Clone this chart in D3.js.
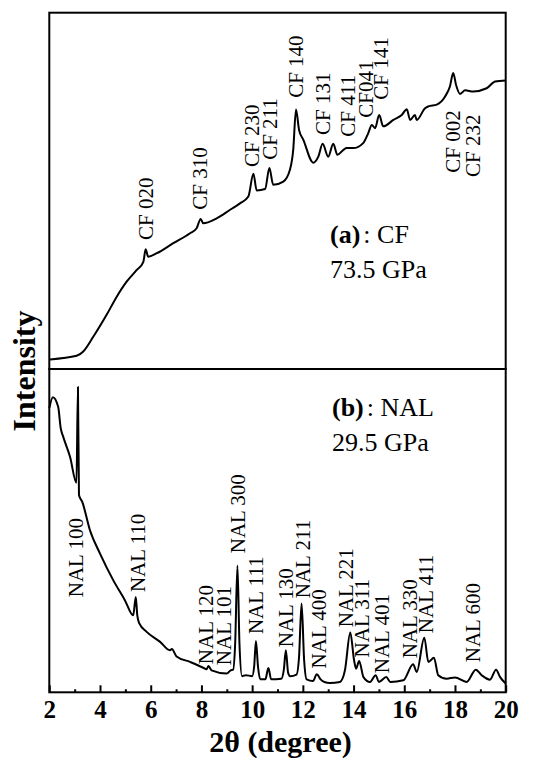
<!DOCTYPE html>
<html>
<head>
<meta charset="utf-8">
<script src="https://cdn.jsdelivr.net/npm/d3@7/dist/d3.min.js"></script>
<style>
  html, body { margin: 0; padding: 0; background: #fff; }
  svg { display: block; }
  text { font-family: "Liberation Serif", "Times New Roman", serif; fill: #000; }
</style>
</head>
<body>
<svg id="chart" width="539" height="760"></svg>
<script>
// ---- Data -------------------------------------------------------------
// (a) CF phase at 73.5 GPa : 2θ (degree) and intensity (a.u.)
const cfTheta = [2.03, 3.08, 3.34, 3.74, 4.26, 4.66, 5.05, 5.45, 5.71, 5.80, 5.90, 6.24, 6.89, 7.55, 7.81, 7.97, 8.07, 8.60, 9.13, 9.52, 9.85, 10.05, 10.18, 10.51, 10.68, 10.83, 11.23, 11.49, 11.62, 11.73, 11.85, 12.02, 12.41, 12.61, 12.78, 13.00, 13.20, 13.36, 13.60, 13.73, 13.99, 14.38, 14.58, 14.72, 14.85, 15.01, 15.17, 15.57, 15.90, 16.10, 16.23, 16.42, 16.49, 16.82, 16.95, 17.28, 17.61, 17.80, 17.93, 18.04, 18.20, 18.40, 18.72, 19.25, 19.58, 20.00];
const cfIntensity = [2.7, 3.7, 4.9, 9.1, 15.2, 20.3, 24.5, 27.8, 30.1, 33.6, 31.5, 32.5, 35.3, 38.1, 39.5, 42.1, 40.9, 42.3, 44.7, 46.5, 48.4, 54.8, 50.1, 50.5, 56.4, 51.7, 52.6, 55.9, 61.5, 72.8, 67.1, 64.3, 57.9, 59.6, 63.2, 59.6, 63.2, 60.1, 61.5, 62.0, 62.0, 63.4, 66.2, 68.5, 67.6, 71.3, 68.1, 69.9, 71.3, 72.9, 69.9, 71.3, 69.9, 73.2, 73.7, 74.2, 76.5, 79.3, 83.1, 79.8, 77.2, 78.2, 77.9, 78.8, 80.7, 81.0];

// (b) NAL phase at 29.5 GPa : 2θ (degree) and intensity (a.u.)
const nalTheta = [2.00, 2.14, 2.35, 2.45, 2.55, 2.82, 3.07, 3.13, 3.17, 3.30, 3.60, 4.00, 4.52, 4.98, 5.31, 5.41, 5.47, 5.55, 5.84, 6.37, 6.76, 6.83, 7.02, 7.55, 8.07, 8.20, 8.28, 8.40, 9.00, 9.15, 9.25, 9.33, 9.42, 9.50, 9.60, 9.75, 10.00, 10.08, 10.15, 10.23, 10.32, 10.52, 10.64, 10.75, 11.15, 11.25, 11.33, 11.42, 11.50, 11.75, 11.85, 11.95, 12.05, 12.15, 12.40, 12.55, 12.70, 12.85, 13.07, 13.46, 13.66, 13.87, 14.02, 14.10, 14.22, 14.39, 14.65, 14.87, 15.00, 15.29, 15.45, 15.96, 16.35, 16.49, 16.79, 16.95, 17.17, 17.34, 17.67, 18.00, 18.46, 18.82, 19.05, 19.38, 19.62, 19.78, 20.00];
const nalIntensity = [87.9, 91.3, 88.3, 81.7, 79.0, 72.8, 64.8, 94.4, 61.0, 58.9, 50.2, 42.9, 34.7, 28.5, 23.8, 29.5, 23.8, 21.3, 18.7, 15.6, 13.0, 13.4, 11.1, 9.4, 7.6, 7.1, 8.1, 6.8, 5.8, 6.8, 7.0, 15.0, 39.2, 15.0, 5.0, 5.3, 5.0, 8.0, 15.9, 8.0, 4.0, 4.0, 7.5, 4.0, 4.2, 7.0, 13.0, 6.0, 5.0, 5.5, 11.0, 27.5, 10.0, 4.0, 3.5, 5.6, 4.0, 3.2, 2.9, 3.2, 6.8, 18.5, 9.9, 7.3, 9.7, 4.7, 3.2, 5.3, 3.2, 4.7, 3.2, 3.7, 8.7, 6.3, 16.9, 9.4, 10.7, 5.3, 4.2, 4.6, 3.2, 7.0, 5.3, 3.9, 7.0, 4.7, 2.7];

// Peak indexing labels: name, 2θ of the label, intensity level where the label starts
const cfLabels = ["CF 020", "CF 310", "CF 230", "CF 211", "CF 140", "CF 131", "CF 411", "CF041", "CF 141", "CF 002", "CF 232"];
const cfLabelTheta = [6.09, 8.22, 10.27, 10.98, 12.02, 13.07, 14.06, 14.77, 15.36, 18.20, 18.99];
const cfLabelLevel = [36.2, 44.7, 56.7, 58.7, 76.1, 65.7, 65.2, 70.5, 75.6, 55.1, 53.9];

const nalLabels = ["NAL 100", "NAL 110", "NAL 120", "NAL 101", "NAL 300", "NAL 111", "NAL 130", "NAL 211", "NAL 400", "NAL 221", "NAL 311", "NAL 401", "NAL 330", "NAL 411", "NAL 600"];
const nalLabelTheta = [3.33, 5.77, 8.46, 9.17, 9.72, 10.43, 11.61, 12.28, 12.91, 13.98, 14.61, 15.40, 16.50, 17.13, 18.99];
const nalLabelLevel = [29.4, 31.0, 8.7, 8.4, 43.0, 18.0, 13.9, 29.1, 7.4, 20.1, 10.8, 5.9, 10.5, 18.3, 9.3];

const majorTicks = [2, 4, 6, 8, 10, 12, 14, 16, 18, 20];
const minorTicks = [3, 5, 7, 9, 11, 13, 15, 17, 19];

// ---- Layout -----------------------------------------------------------
const svg = d3.select("#chart");
const plotLeft = 49.3, plotRight = 505.7, plotTop = 12.7, plotMid = 369, plotBottom = 692.3;
const serif = '"Liberation Serif", "Times New Roman", serif';

const x = d3.scaleLinear().domain([2, 20]).range([plotLeft, plotRight]);
const yTop = d3.scaleLinear().domain([0, 100]).range([plotMid, plotTop]);
const yBot = d3.scaleLinear().domain([0, 100]).range([plotBottom, plotMid]);

// ---- Curves -----------------------------------------------------------
function drawCurve(thetas, vals, yScale) {
  const pts = thetas.map((t, i) => [t, vals[i]]);
  const line = d3.line()
    .x(d => x(d[0]))
    .y(d => yScale(d[1]))
    .curve(d3.curveMonotoneX);
  svg.append("path")
    .datum(pts)
    .attr("d", line)
    .attr("fill", "none")
    .attr("stroke", "#000")
    .attr("stroke-width", 2)
    .attr("stroke-linejoin", "round");
}
drawCurve(cfTheta, cfIntensity, yTop);
drawCurve(nalTheta, nalIntensity, yBot);

// ---- Frames -----------------------------------------------------------
svg.append("rect")
  .attr("x", plotLeft).attr("y", plotTop)
  .attr("width", plotRight - plotLeft).attr("height", plotMid - plotTop)
  .attr("fill", "none").attr("stroke", "#000").attr("stroke-width", 2);
svg.append("rect")
  .attr("x", plotLeft).attr("y", plotMid)
  .attr("width", plotRight - plotLeft).attr("height", plotBottom - plotMid)
  .attr("fill", "none").attr("stroke", "#000").attr("stroke-width", 2);

// ---- X axis -----------------------------------------------------------
const axisMajor = d3.axisBottom(x).tickValues(majorTicks).tickSize(-7).tickPadding(8).tickFormat(d3.format("d"));
const gMajor = svg.append("g").attr("transform", `translate(0,${plotBottom})`).call(axisMajor);
gMajor.select(".domain").remove();
gMajor.selectAll("line").attr("stroke", "#000").attr("stroke-width", 2);
gMajor.selectAll("text")
  .attr("font-family", serif).attr("font-size", 25).attr("font-weight", "bold").attr("fill", "#000");

const axisMinor = d3.axisBottom(x).tickValues(minorTicks).tickSize(-3).tickFormat("");
const gMinor = svg.append("g").attr("transform", `translate(0,${plotBottom})`).call(axisMinor);
gMinor.select(".domain").remove();
gMinor.selectAll("line").attr("stroke", "#000").attr("stroke-width", 2);

// ---- Axis titles ------------------------------------------------------
svg.append("text")
  .attr("x", (plotLeft + plotRight) / 2 + 3).attr("y", 752)
  .attr("text-anchor", "middle")
  .attr("font-size", 30).attr("font-weight", "bold")
  .text("2θ (degree)");

svg.append("text")
  .attr("transform", "translate(35,371) rotate(-90)")
  .attr("text-anchor", "middle")
  .attr("font-size", 32).attr("font-weight", "bold")
  .text("Intensity");

// ---- Peak labels ------------------------------------------------------
function drawLabels(names, thetas, levels, yScale) {
  svg.append("g").selectAll("text")
    .data(names)
    .join("text")
    .attr("transform", (d, i) => `translate(${x(thetas[i])},${yScale(levels[i])}) rotate(-90)`)
    .attr("text-anchor", "start")
    .attr("font-size", 21)
    .text(d => d);
}
drawLabels(cfLabels, cfLabelTheta, cfLabelLevel, yTop);
drawLabels(nalLabels, nalLabelTheta, nalLabelLevel, yBot);

// ---- Panel annotations ------------------------------------------------
function panelNote(xPos, yPos, tag, phase, pressure) {
  const t = svg.append("text").attr("x", xPos).attr("y", yPos).attr("font-size", 26);
  t.append("tspan").attr("font-weight", "bold").text(`(${tag})`);
  t.append("tspan").attr("dx", 3).text(`: ${phase}`);
  svg.append("text").attr("x", xPos).attr("y", yPos + 35).attr("font-size", 26).text(pressure);
}
panelNote(330, 243, "a", "CF", "73.5 GPa");
panelNote(332, 416, "b", "NAL", "29.5 GPa");
</script>
</body>
</html>
